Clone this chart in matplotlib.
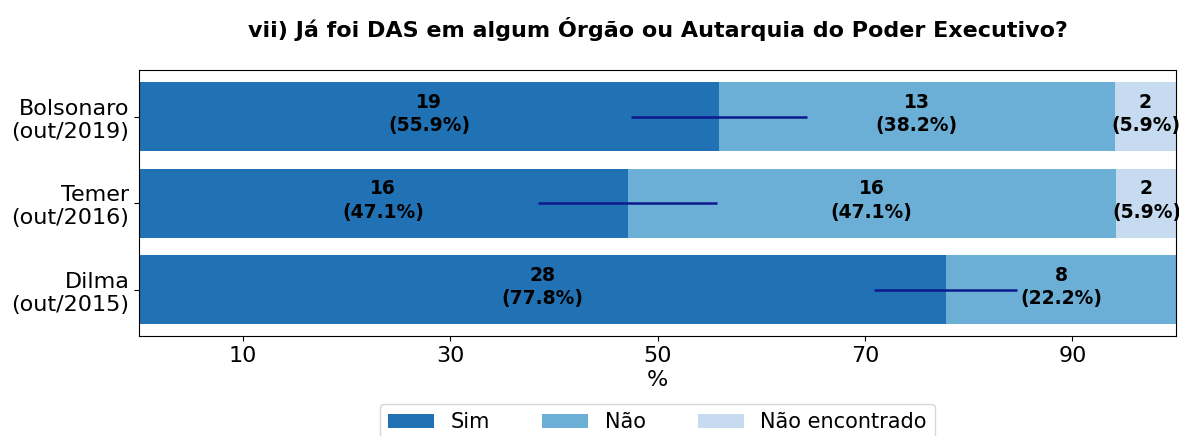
import matplotlib.pyplot as plt
import numpy as np

# data
governos = ['Dilma\n(out/2015)', 'Temer\n(out/2016)', 'Bolsonaro\n(out/2019)']
categorias = ['Sim', 'Não', 'Não encontrado']
contagens = {
    'Sim': [28, 16, 19],
    'Não': [8, 16, 13],
    'Não encontrado': [0, 2, 2],
}
percentuais = {
    'Sim': [77.8, 47.1, 55.9],
    'Não': [22.2, 47.1, 38.2],
    'Não encontrado': [0.0, 5.9, 5.9],
}
erro_sim = [6.9, 8.6, 8.5]
cores = ['#2171b5', '#6baed6', '#c6dbef']

fig, ax = plt.subplots(figsize=(11.79, 4.36), dpi=100)
fig.subplots_adjust(left=0.118, right=0.9975, top=0.839, bottom=0.229)

y = np.arange(len(governos))
left = np.zeros(len(governos))
for cat, cor in zip(categorias, cores):
    vals = np.array(percentuais[cat])
    ax.barh(y, vals, left=left, height=0.8, color=cor, label=cat)
    for i, (v, n) in enumerate(zip(vals, contagens[cat])):
        if n > 0:
            ax.text(left[i] + v / 2, y[i] + 0.03, f'{n}\n({v:.1f}%)',
                    ha='center', va='center', fontsize=13.5,
                    fontweight='bold', linespacing=1.3)
    left += vals

ax.errorbar(percentuais['Sim'], y, xerr=erro_sim, fmt='none',
            ecolor='#0d1a8c', elinewidth=1.8, capsize=0)

ax.set_xlim(0, 100)
ax.set_xticks([10, 30, 50, 70, 90])
ax.set_yticks(y)
ax.set_yticklabels(governos)
ax.tick_params(labelsize=16)
ax.set_xlabel('%', fontsize=16, labelpad=3)
ax.set_title('vii) Já foi DAS em algum Órgão ou Autarquia do Poder Executivo?',
             fontsize=16, fontweight='bold', pad=24)
ax.legend(loc='upper center', bbox_to_anchor=(0.5, -0.215), ncol=3,
          fontsize=15, handlelength=2.2, columnspacing=2.5)

fig.savefig('out.png', dpi=100)
